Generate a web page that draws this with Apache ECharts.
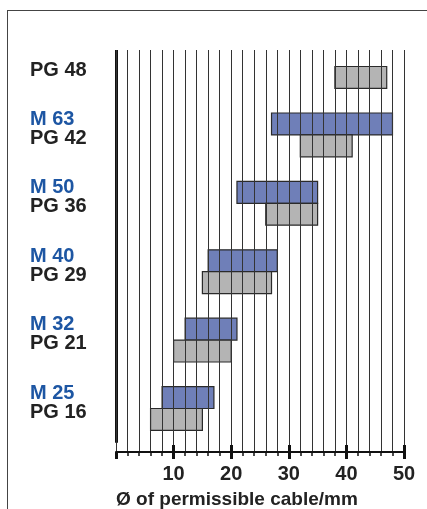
<!DOCTYPE html>
<html lang="en">
<head>
    <meta charset="UTF-8">
    <title>Cable glands</title>
    <style>
        * {
            margin: 0;
            padding: 0;
        }

        body {
            background: #fff;
            overflow: hidden;
        }

        #frame {
            position: absolute;
            left: 7px;
            top: 10px;
            width: 420px;
            height: 499px;
            border-top: 1.5px solid #444;
            border-left: 1.5px solid #444;
        }

        #main {
            position: absolute;
            left: 0;
            top: 0;
            width: 427px;
            height: 509px;
        }
    </style>
    <script src="https://cdn.jsdelivr.net/npm/echarts@6/dist/echarts.min.js"></script>
</head>
<body>
<div id="frame"></div>
<div id="main"></div>
<script>
    // rows top to bottom
    var mLabels = ['', 'M 63', 'M 50', 'M 40', 'M 32', 'M 25'];
    var pgLabels = ['PG 48', 'PG 42', 'PG 36', 'PG 29', 'PG 21', 'PG 16'];
    var mMin = [null, 27, 21, 16, 12, 8];
    var mMax = [null, 48, 35, 28, 21, 17];
    var pgMin = [38, 32, 26, 15, 10, 6];
    var pgMax = [47, 41, 35, 27, 20, 15];
    var xTicks = [10, 20, 30, 40, 50];

    var font = '"Liberation Sans", Arial, sans-serif';
    var yMin = -0.241, yMax = 5.636;

    var mData = [], pgData = [];
    for (var i = 0; i < pgLabels.length; i++) {
        if (mMin[i] != null) mData.push([mMin[i], mMax[i], i]);
        pgData.push([pgMin[i], pgMax[i], i]);
    }

    function rangeBar(upper, fill) {
        return function (params, api) {
            var a = api.coord([api.value(0), api.value(2)]);
            var b = api.coord([api.value(1), api.value(2)]);
            var h = api.size([0, 1])[1] * 0.32;
            return {
                type: 'rect',
                shape: {x: a[0], y: upper ? a[1] - h : a[1], width: b[0] - a[0], height: h},
                style: {fill: fill, stroke: '#2a2a2a', lineWidth: 1.2}
            };
        };
    }

    var myChart = echarts.init(document.getElementById('main'));

    var option = {
        animation: false,
        title: {
            text: 'Ø of permissible cable/mm',
            left: 111,
            top: 485,
            textStyle: {fontFamily: font, fontSize: 19, fontWeight: 'bold', color: '#222'}
        },
        grid: {left: 116, right: 23, top: 50, bottom: 57},
        xAxis: [
            {
                type: 'value',
                min: 0,
                max: 50,
                interval: 10,
                z: 10,
                axisLine: {show: true, onZero: false, lineStyle: {color: '#111', width: 2}},
                axisTick: {show: true, length: 7, lineStyle: {color: '#111', width: 3}},
                minorTick: {show: true, splitNumber: 5, length: 4, lineStyle: {color: '#111', width: 1.5}},
                splitLine: {show: true, lineStyle: {color: '#333', width: 1}},
                minorSplitLine: {show: true, lineStyle: {color: '#333', width: 1}},
                axisLabel: {
                    showMinLabel: false,
                    margin: 12,
                    fontFamily: font,
                    fontSize: 20,
                    fontWeight: 'bold',
                    color: '#222'
                }
            },
            {
                type: 'value',
                position: 'bottom',
                min: 0,
                max: 50,
                interval: 10,
                z: 11,
                axisLine: {show: false, onZero: false},
                axisTick: {show: true, inside: true, length: 7, customValues: xTicks, lineStyle: {color: '#111', width: 3}},
                splitLine: {show: false},
                axisLabel: {show: false}
            }
        ],
        yAxis: {
            type: 'value',
            inverse: true,
            min: yMin,
            max: yMax,
            axisLine: {show: false},
            axisTick: {show: false},
            splitLine: {show: false},
            axisLabel: {
                customValues: [0, 1, 2, 3, 4, 5],
                align: 'left',
                margin: 86,
                padding: [0, 0, 12, 0],
                formatter: function (v) {
                    var r = Math.round(v);
                    return '{m|' + (mLabels[r] || ' ') + '}\n{pg|' + pgLabels[r] + '}';
                },
                rich: {
                    m: {fontFamily: font, fontSize: 20, fontWeight: 'bold', lineHeight: 19, color: '#1d56a3'},
                    pg: {fontFamily: font, fontSize: 20, fontWeight: 'bold', lineHeight: 19, color: '#222'}
                }
            }
        },
        series: [
            {
                name: 'M',
                type: 'custom',
                renderItem: rangeBar(true, '#6f7fb8'),
                encode: {x: [0, 1], y: 2},
                data: mData,
                markLine: {
                    silent: true,
                    symbol: 'none',
                    label: {show: false},
                    lineStyle: {color: '#111', width: 3, type: 'solid'},
                    data: [[{coord: [0, yMin]}, {coord: [0, 5.5]}]]
                }
            },
            {
                name: 'PG',
                type: 'custom',
                renderItem: rangeBar(false, '#b4b4b4'),
                encode: {x: [0, 1], y: 2},
                data: pgData
            }
        ]
    };

    myChart.setOption(option);
</script>
</body>
</html>
